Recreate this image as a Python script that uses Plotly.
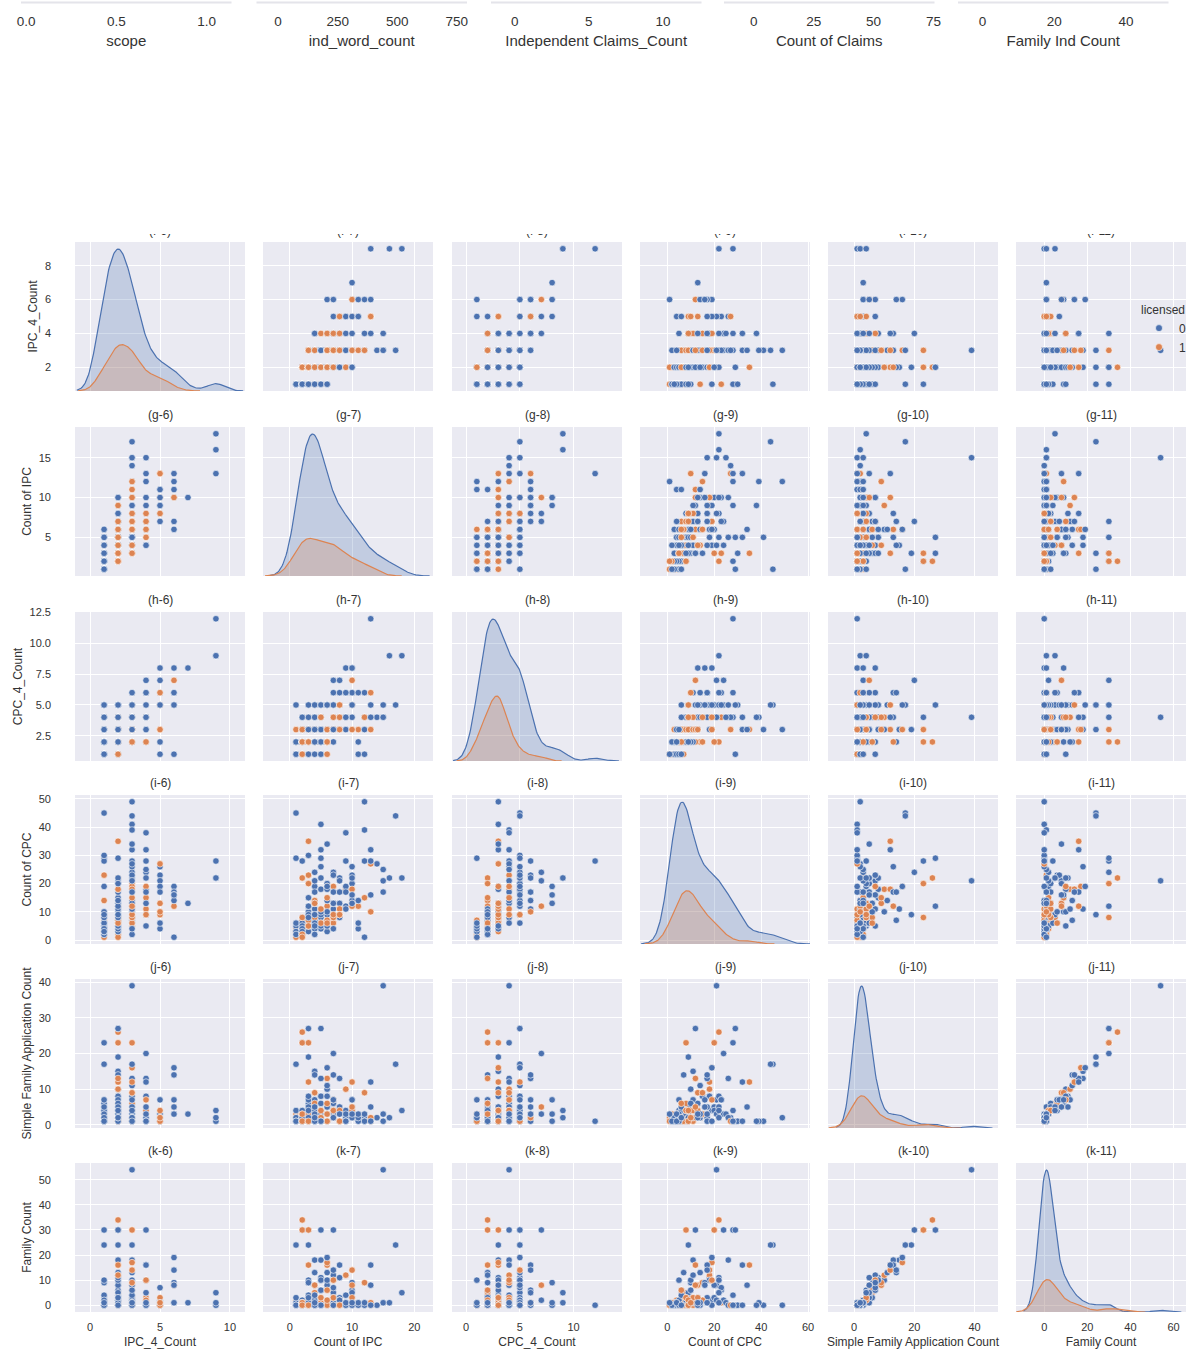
import numpy as np
import plotly.graph_objects as go

# ---------------- patent records (one entry per patent) ----------------
ipc_4_count = [
    1, 1, 1, 1, 2, 2, 2, 2, 2, 2, 2, 3, 3, 3, 3, 2,
    1, 1, 1, 1, 1, 1, 1, 1, 1, 1, 1, 1, 1, 1, 1, 1, 1, 1, 1, 1, 1, 1, 1, 1, 1, 1, 1, 1, 1, 1,
    2, 2, 2, 2, 2, 2, 2, 2, 2, 2, 2, 2, 2, 2, 2, 2, 2, 2, 2, 2, 2, 2, 2,
    2, 2, 2, 2, 2, 2, 2, 2, 2, 2, 2, 2, 2, 2, 2, 2, 2, 2, 2, 2, 2, 2, 2,
    3, 3, 3, 3, 3, 3, 3, 3, 3, 3, 3, 3, 3, 3, 3, 3, 3, 3,
    3, 3, 3, 3, 3, 3, 3, 3, 3, 3, 3, 3, 3, 3, 3, 3, 3,
    4, 4, 4, 4, 4, 4, 4, 4, 4, 4, 4, 4, 4, 4, 4,
    5, 5, 5, 5, 5, 5, 5, 5, 5, 5, 5,
    6, 6, 6, 6, 6, 6, 6,
    7,
    9, 9, 9,
]
count_of_ipc = [
    2, 2, 3, 1, 2, 3, 3, 3, 4, 4, 2, 3, 4, 4, 5, 5,
    1, 1, 1, 2, 3, 4, 1, 1, 1, 1, 1, 1, 2, 2, 2, 2, 2, 2, 2, 3, 3, 3, 3, 3, 4, 4, 5, 5, 6, 6,
    2, 2, 2, 2, 2, 2, 2, 3, 3, 3, 3, 3, 3, 3, 3, 3, 4, 4, 4, 4, 4, 4, 4,
    4, 5, 5, 5, 5, 5, 5, 6, 6, 6, 6, 6, 7, 7, 7, 7, 8, 8, 8, 9, 9, 10, 10,
    3, 3, 3, 3, 4, 4, 4, 4, 5, 5, 5, 5, 5, 6, 6, 6, 6, 7,
    7, 7, 8, 8, 8, 9, 9, 10, 10, 11, 12, 12, 12, 14, 15, 15, 17,
    4, 4, 5, 6, 6, 7, 7, 7, 8, 8, 9, 10, 12, 13, 15,
    7, 8, 8, 9, 9, 10, 10, 11, 11, 13, 13,
    6, 7, 10, 10, 11, 12, 13,
    10,
    13, 16, 18,
]
cpc_4_count = [
    2, 3, 2, 2, 2, 3, 2, 3, 3, 2, 3, 3, 3, 2, 3, 2,
    2, 3, 1, 3, 4, 2, 5, 1, 2, 1, 1, 2, 2, 3, 4, 1, 4, 2, 2, 3, 2, 1, 5, 2, 3, 5, 4, 1, 2, 3,
    2, 2, 2, 3, 2, 1, 1, 5, 3, 2, 1, 4, 2, 3, 2, 3, 3, 2, 3, 5, 1, 4, 2,
    2, 5, 3, 2, 1, 3, 3, 2, 5, 2, 3, 1, 5, 2, 4, 3, 3, 5, 4, 3, 4, 5, 4,
    3, 2, 2, 2, 5, 4, 2, 3, 3, 3, 4, 5, 2, 3, 5, 3, 2, 3,
    3, 3, 4, 5, 3, 4, 6, 6, 5, 3, 3, 4, 4, 4, 4, 5, 5,
    3, 2, 4, 5, 2, 3, 7, 4, 6, 4, 4, 6, 6, 4, 4,
    5, 7, 5, 8, 6, 3, 5, 2, 1, 3, 6,
    5, 6, 8, 7, 6, 1, 5,
    8,
    12, 9, 9,
]
count_of_cpc = [
    4, 5, 6, 3, 5, 4, 6, 8, 5, 7, 6, 7, 5, 8, 6, 4,
    4, 3, 1, 7, 23, 14, 45, 29, 5, 3, 2, 6, 4, 6, 8, 2, 28, 3, 5, 9, 10, 5, 30, 4, 19, 6, 8, 4, 3, 9,
    4, 2, 3, 8, 22, 2, 1, 12, 9, 6, 3, 15, 5, 35, 5, 7, 11, 7, 13, 17, 4, 21, 6,
    8, 29, 6, 9, 5, 18, 6, 5, 20, 12, 10, 7, 9, 11, 13, 6, 8, 22, 9, 12, 18, 20, 14,
    12, 8, 5, 20, 24, 6, 2, 13, 41, 32, 26, 22, 10, 34, 14, 19, 6, 4,
    8, 9, 17, 13, 11, 28, 11, 23, 18, 12, 49, 39, 15, 27, 21, 17, 44,
    5, 9, 11, 18, 15, 13, 24, 19, 17, 9, 38, 22, 28, 32, 25,
    23, 21, 9, 19, 17, 13, 26, 4, 6, 27, 10,
    19, 17, 16, 12, 14, 1, 16,
    13,
    28, 22, 22,
]
simple_family_application_count = [
    2, 1, 3, 2, 2, 1, 3, 2, 4, 2, 1, 2, 3, 1, 2, 1,
    3, 1, 2, 1, 3, 2, 17, 1, 2, 1, 1, 4, 1, 3, 4, 2, 23, 1, 3, 5, 6, 7, 1, 2, 4, 1, 3, 2, 1, 5,
    2, 1, 2, 23, 26, 3, 1, 27, 19, 5, 2, 8, 1, 12, 1, 3, 15, 14, 4, 2, 1, 7, 2,
    6, 27, 4, 3, 2, 8, 2, 3, 5, 13, 10, 1, 4, 7, 6, 2, 3, 5, 1, 2, 10, 4, 2,
    2, 4, 1, 23, 3, 5, 1, 9, 1, 1, 13, 8, 6, 5, 11, 16, 6, 3,
    4, 2, 5, 3, 1, 4, 2, 7, 12, 2, 2, 1, 9, 2, 39, 1, 17,
    1, 2, 4, 8, 3, 2, 20, 7, 13, 4, 1, 5, 1, 12, 3,
    7, 3, 1, 1, 3, 4, 2, 1, 2, 1, 2,
    16, 14, 7, 5, 3, 3, 5,
    3,
    1, 2, 4,
]
family_count = [
    0, 0, 1, 1, 0, 0, 1, 1, 2, 0, 0, 1, 2, 0, 0, 1,
    2, 0, 0, 0, 1, 1, 24, 0, 1, 0, 0, 3, 0, 1, 2, 0, 30, 0, 1, 4, 9, 10, 0, 0, 2, 0, 0, 0, 0, 1,
    1, 0, 1, 30, 34, 1, 0, 30, 24, 4, 0, 9, 0, 16, 0, 2, 18, 13, 3, 1, 0, 8, 0,
    5, 30, 6, 2, 1, 11, 1, 2, 8, 16, 10, 0, 5, 12, 3, 0, 2, 11, 0, 1, 12, 3, 0,
    1, 3, 0, 30, 2, 4, 0, 8, 0, 0, 18, 10, 6, 8, 13, 17, 6, 1,
    3, 0, 3, 2, 0, 4, 1, 6, 14, 1, 0, 1, 9, 0, 54, 1, 24,
    0, 1, 3, 10, 2, 0, 30, 10, 16, 2, 0, 5, 0, 16, 1,
    7, 2, 0, 0, 1, 3, 0, 1, 0, 0, 1,
    19, 14, 9, 8, 1, 1, 8,
    1,
    0, 1, 5,
]
licensed = [
    0, 0, 0, 0, 0, 0, 0, 0, 0, 0, 0, 0, 0, 0, 0, 0,
    1, 1, 1, 1, 1, 1, 0, 0, 0, 0, 0, 0, 0, 0, 0, 0, 0, 0, 0, 0, 0, 0, 0, 0, 0, 0, 0, 0, 0, 0,
    0, 0, 0, 1, 1, 1, 1, 0, 0, 0, 0, 0, 0, 1, 1, 1, 0, 0, 0, 0, 0, 0, 0,
    1, 0, 0, 0, 0, 0, 1, 0, 0, 1, 0, 1, 0, 0, 0, 1, 0, 0, 0, 0, 1, 0, 0,
    0, 0, 1, 1, 0, 0, 0, 1, 0, 0, 0, 0, 0, 0, 0, 1, 1, 0,
    1, 1, 0, 0, 1, 0, 0, 0, 1, 1, 0, 0, 1, 0, 0, 0, 0,
    0, 0, 1, 0, 1, 0, 0, 1, 0, 1, 0, 0, 0, 0, 0,
    0, 0, 1, 0, 0, 1, 0, 0, 0, 1, 1,
    0, 0, 0, 1, 0, 0, 0,
    0,
    0, 0, 0,
]

variable_names = ["IPC_4_Count", "Count of IPC", "CPC_4_Count", "Count of CPC",
                  "Simple Family Application Count", "Family Count"]
row_letters = ["f", "g", "h", "i", "j", "k"]
col_numbers = [6, 7, 8, 9, 10, 11]
hue_levels = [0, 1]

# axis labels of the grid block continuing above this one
upper_names = ["scope", "ind_word_count", "Independent Claims_Count", "Count of Claims", "Family Ind Count"]
upper_tickvals = [[0.0, 0.5, 1.0], [0, 250, 500, 750], [0, 5, 10], [0, 25, 50, 75], [0, 20, 40]]

columns = [ipc_4_count, count_of_ipc, cpc_4_count, count_of_cpc,
           simple_family_application_count, family_count]
assert all(len(col) == len(licensed) for col in columns)

# ---------------- style / geometry ----------------
W, H = 1189, 1349
FONT = "Liberation Sans, Arial, sans-serif"
TEXT = "#333333"
PANEL_BG = "#EAEAF2"
palette = {0: "#4C72B0", 1: "#DD8452"}
fill_rgba = {0: "rgba(76,114,176,0.25)", 1: "rgba(221,132,82,0.25)"}

col_left = [75, 263, 452, 640, 828, 1016]
row_top = [242, 427, 612, 795, 979, 1163]
PW, PH = 170, 149
x_ranges = [[-1.08, 11.08], [-4.3, 23.0], [-1.31, 14.5], [-11.6, 60.8], [-8.7, 47.8], [-13.1, 65.8]]
col_dtick = [5, 10, 5, 20, 20, 20]
row_dtick = [2, 5, 2.5, 10, 10, 10]

upper_left = [21, 256.5, 491, 724, 958]
upper_w = 210.5
upper_ranges = [[-0.028, 1.138], [-90.6, 792.8], [-1.6, 12.6], [-12.4, 75.4], [-6.8, 51.8]]


def xdom(left, width):
    return [left / W, (left + width) / W]


def ydom(top, height):
    return [1 - (top + height) / H, 1 - top / H]


def ax_key(kind, k):
    return f"{kind}axis" if k == 1 else f"{kind}axis{k}"


def ax_ref(kind, k):
    return kind if k == 1 else f"{kind}{k}"


def padded(lo, hi, frac=0.05):
    span = hi - lo
    return [lo - frac * span, hi + frac * span]


def kde(values, n_total, gridsize=200, cut=3):
    # Gaussian KDE with Scott's bandwidth, scaled by the group's share of all rows
    v = np.asarray(values, float)
    n = len(v)
    bw = v.std(ddof=1) * n ** (-0.2)
    grid = np.linspace(v.min() - cut * bw, v.max() + cut * bw, gridsize)
    dens = np.exp(-0.5 * ((grid[:, None] - v[None, :]) / bw) ** 2).sum(axis=1)
    dens /= n * bw * np.sqrt(2 * np.pi)
    return grid, dens * n / n_total


def placeholder(xref, yref):
    # an empty trace so that an axis pair without marks still gets its ticks drawn
    return go.Scatter(x=[None], y=[None], mode="markers", xaxis=xref, yaxis=yref,
                      showlegend=False, hoverinfo="skip")


arrays = [np.asarray(c, float) for c in columns]
lic = np.asarray(licensed)
n_total = len(lic)
y_ranges = [padded(a.min(), a.max()) for a in arrays]
point_colors = [palette[v] for v in licensed]

fig = go.Figure()
layout = {}
shapes = []
annotations = []

tick_font = dict(family=FONT, size=11, color=TEXT)
title_font = dict(family=FONT, size=12, color=TEXT)

for r in range(6):
    for c in range(6):
        k = r * 6 + c + 1
        xa = dict(domain=xdom(col_left[c], PW), range=x_ranges[c], anchor=ax_ref("y", k),
                  tick0=0, dtick=col_dtick[c], showgrid=True, gridcolor="white", gridwidth=1,
                  zeroline=False, showline=False, ticks="", showticklabels=(r == 5),
                  tickfont=tick_font, ticklabelstandoff=7, fixedrange=True)
        if r == 5:
            xa["title"] = dict(text=variable_names[c], font=title_font, standoff=6)
        ya = dict(domain=ydom(row_top[r], PH), range=y_ranges[r], anchor=ax_ref("x", k),
                  tick0=0, dtick=row_dtick[r], showgrid=True, gridcolor="white", gridwidth=1,
                  zeroline=False, showline=False, ticks="", showticklabels=(c == 0),
                  tickfont=tick_font, ticklabelstandoff=23, fixedrange=True)
        if r == 2:
            ya["tickformat"] = ".1f"
        if c == 0:
            ya["title"] = dict(text=variable_names[r], font=title_font, standoff=4)
        layout[ax_key("x", k)] = xa
        layout[ax_key("y", k)] = ya

        shapes.append(dict(type="rect", xref="paper", yref="paper", layer="below",
                           x0=col_left[c] / W, x1=(col_left[c] + PW) / W,
                           y0=1 - (row_top[r] + PH) / H, y1=1 - row_top[r] / H,
                           fillcolor=PANEL_BG, line=dict(width=0)))

        if r != c:
            fig.add_trace(go.Scatter(
                x=arrays[c], y=arrays[r], mode="markers",
                marker=dict(color=point_colors, size=6.5, line=dict(color="white", width=0.6)),
                xaxis=ax_ref("x", k), yaxis=ax_ref("y", k), showlegend=False, hoverinfo="skip"))
        else:
            fig.add_trace(placeholder(ax_ref("x", k), ax_ref("y", k)))
            # density curves sit on their own invisible axes stacked over the panel
            kd = 36 + r + 1
            peak = 0.0
            for lev in hue_levels:
                g, d = kde(arrays[c][lic == lev], n_total)
                peak = max(peak, d.max())
                fig.add_trace(go.Scatter(
                    x=g, y=d, mode="lines", fill="tozeroy", fillcolor=fill_rgba[lev],
                    line=dict(color=palette[lev], width=1.2),
                    xaxis=ax_ref("x", kd), yaxis=ax_ref("y", kd), showlegend=False, hoverinfo="skip"))
            layout[ax_key("x", kd)] = dict(domain=xdom(col_left[c], PW), range=x_ranges[c],
                                          anchor=ax_ref("y", kd), visible=False, fixedrange=True)
            layout[ax_key("y", kd)] = dict(domain=ydom(row_top[r], PH), range=[0, 1.05 * peak],
                                          anchor=ax_ref("x", kd), visible=False, fixedrange=True)

        if r > 0:
            annotations.append(dict(text=f"({row_letters[r]}-{col_numbers[c]})",
                                    xref="paper", yref="paper",
                                    x=(col_left[c] + PW / 2) / W, y=1 - row_top[r] / H,
                                    xanchor="center", yanchor="bottom", yshift=3,
                                    showarrow=False, font=title_font))

# titles of the first row, cut off at the top of this block
clip_top = 234
layout["xaxis48"] = dict(domain=[0, 1], range=[0, 1], visible=False, fixedrange=True, anchor="y48")
layout["yaxis48"] = dict(domain=ydom(clip_top, 30), range=[clip_top + 30, clip_top],
                         visible=False, fixedrange=True, anchor="x48")
fig.add_trace(go.Scatter(
    x=[(col_left[c] + PW / 2) / W for c in range(6)],
    y=[row_top[0] - 10] * 6, mode="text",
    text=[f"({row_letters[0]}-{n})" for n in col_numbers],
    textfont=title_font, cliponaxis=True, xaxis="x48", yaxis="y48",
    showlegend=False, hoverinfo="skip"))

# bottom edge of the block above: x tick labels and titles
upper_tick_font = dict(family=FONT, size=13.5, color=TEXT)
upper_title_font = dict(family=FONT, size=15, color=TEXT)
for i in range(5):
    k = 43 + i
    layout[ax_key("x", k)] = dict(
        domain=xdom(upper_left[i], upper_w), range=upper_ranges[i], anchor=ax_ref("y", k),
        tickmode="array", tickvals=upper_tickvals[i], tickformat=".1f" if i == 0 else "d",
        showgrid=False, zeroline=False, showline=False, ticks="", showticklabels=True,
        tickfont=upper_tick_font, ticklabelstandoff=8, fixedrange=True,
        title=dict(text=upper_names[i], font=upper_title_font, standoff=7))
    layout[ax_key("y", k)] = dict(domain=ydom(1.5, 2), range=[0, 1], visible=False,
                                  anchor=ax_ref("x", k), fixedrange=True)
    fig.add_trace(placeholder(ax_ref("x", k), ax_ref("y", k)))
    shapes.append(dict(type="rect", xref="paper", yref="paper", layer="below",
                       x0=upper_left[i] / W, x1=(upper_left[i] + upper_w) / W,
                       y0=1 - 3.5 / H, y1=1 - 1.5 / H,
                       fillcolor="#E4E4EA", line=dict(width=0)))

# legend entries for the hue levels
for lev in hue_levels:
    fig.add_trace(go.Scatter(x=[None], y=[None], mode="markers", name=str(lev),
                             marker=dict(color=palette[lev], size=7, line=dict(color="white", width=0.6)),
                             xaxis="x2", yaxis="y2", showlegend=True, hoverinfo="skip"))

fig.update_layout(
    width=W, height=H, margin=dict(l=0, r=0, t=0, b=0, autoexpand=False),
    paper_bgcolor="white", plot_bgcolor="rgba(0,0,0,0)",
    font=dict(family=FONT, size=12, color=TEXT),
    shapes=shapes, annotations=annotations,
    showlegend=True,
    legend=dict(x=1139 / W, y=1 - 298 / H, xanchor="left", yanchor="top",
                bgcolor="rgba(0,0,0,0)", borderwidth=0,
                title=dict(text="licensed", font=dict(family=FONT, size=12, color=TEXT)),
                font=dict(family=FONT, size=12, color=TEXT), tracegroupgap=0),
    **layout,
)

fig.write_html("out.html")
